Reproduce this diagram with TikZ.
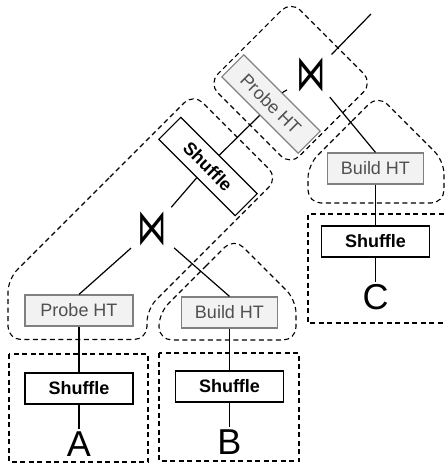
\documentclass[tikz,border=0pt]{standalone}
\usepackage{fontspec}
\usepackage{graphicx}
\setmainfont{Liberation Sans}
\newfontfamily\opfont{DejaVu Sans}
\usepackage{tikz}
\usetikzlibrary{positioning}
\definecolor{htfill}{HTML}{F2F2F2}
\definecolor{htdraw}{HTML}{808080}
\definecolor{httext}{HTML}{505050}
\newcommand{\joinsym}{\scalebox{0.95}[1.6]{⋈}}

\begin{document}
\begin{tikzpicture}[
  x=1pt,
  y=-1pt,
  hull/.style={draw=black, dash pattern=on 5pt off 3.5pt, line width=1.1pt, rounded corners=13pt},
  region/.style={draw=black, dash pattern=on 5pt off 3.5pt, line width=1.1pt},
  htbox/.style={draw=htdraw, fill=htfill, text=httext, line width=1.2pt, minimum height=31pt, inner sep=0pt, font=\fontsize{18}{20}\selectfont},
  shufbox/.style={draw=black, fill=white, line width=1.2pt, minimum width=108pt, minimum height=31pt, inner sep=0pt, font=\fontsize{18}{20}\selectfont\bfseries},
  joinop/.style={circle, minimum size=57pt, inner sep=0pt, font=\opfont\fontsize{31}{33}\selectfont},
  leaf/.style={inner sep=3pt, font=\fontsize{36}{40}\selectfont},
  edge/.style={draw=black, line width=1.2pt}
]
\useasboundingbox (0,0) rectangle (446,464);

% pipeline hulls
\draw[hull] (249.75,42) -- (291,1) -- (372.75,82.75) -- (290.25,165.25) -- (208.5,83.5) -- cycle;
\draw[hull] (100.75,186.25) -- (193.5,93.5) -- (278,178) -- (147,309) -- (147,339.5) -- (8,339.5) -- (8,279) -- cycle;
\draw[hull] (196.5,275.5) -- (234,238) -- (296,300) -- (296,340) -- (159,340) -- (159,313) -- cycle;
\draw[hull] (343,130) -- (378,95) -- (444,161) -- (444,203) -- (308,203) -- (308,165) -- cycle;

% input regions
\draw[region] (9,354) rectangle (148,462);
\draw[region] (159,353) rectangle (299,461);
\draw[region] (452,214) -- (308,214) -- (308,323) -- (452,323);

% upper join
\node[joinop] (join1) at (311.5,75) {\joinsym};
\coordinate (out) at (371,14);
\node[htbox, minimum width=108pt, rotate=-45] (probe1) at (271,104) {Probe HT};
\node[shufbox, rotate=-45] (shuf2) at (208,166.5) {Shuffle};
\node[htbox, minimum width=96pt] (build1) at (375.5,168.5) {Build HT};
\node[shufbox] (shufC) at (375.5,241.5) {Shuffle};
\node[leaf] (labC) at (375.5,297.5) {C};

% lower join
\node[joinop] (join2) at (152.5,229) {\joinsym};
\node[htbox, minimum width=108pt] (probe2) at (79,310.5) {Probe HT};
\node[shufbox] (shufA) at (79,388.5) {Shuffle};
\node[leaf] (labA) at (79,444.5) {A};
\node[htbox, minimum width=96pt] (build2) at (229.5,312.5) {Build HT};
\node[shufbox] (shufB) at (229.5,386.5) {Shuffle};
\node[leaf] (labB) at (229.5,442.5) {B};

% edges
\draw[edge] (join1) -- (out);
\draw[edge] (probe1.north) -- (join1);
\draw[edge] (join1) -- (build1.north);
\draw[edge] (build1) -- (shufC);
\draw[edge] (shufC) -- (labC);
\draw[edge] (probe1.south) -- (shuf2.north);
\draw[edge] (shuf2.south) -- (join2);
\draw[edge] (join2) -- (probe2.north);
\draw[edge] (join2) -- (build2.north);
\draw[edge] (probe2) -- (shufA);
\draw[edge] (shufA) -- (labA);
\draw[edge] (build2) -- (shufB);
\draw[edge] (shufB) -- (labB);
\end{tikzpicture}
\end{document}
